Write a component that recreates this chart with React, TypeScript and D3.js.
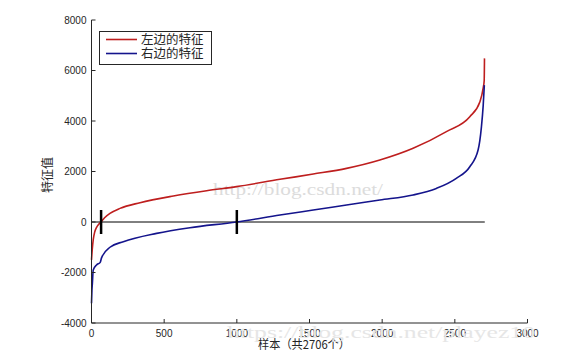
import React from "react";
import * as d3 from "d3";

const xTicks = [0, 500, 1000, 1500, 2000, 2500, 3000];
const yTicks = [-4000, -2000, 0, 2000, 4000, 6000, 8000];

const leftSamples = [0, 5, 12, 22, 35, 50, 65, 90, 127, 196, 334, 563, 792, 998, 1297, 1526, 1755, 1984, 2213, 2442, 2603, 2672, 2695, 2702, 2704];
const leftValues = [-1500, -1100, -700, -400, -210, -90, 0, 170, 340, 540, 765, 1030, 1240, 1400, 1690, 1900, 2125, 2455, 2920, 3580, 4170, 4750, 5300, 5600, 6480];

const rightSamples = [0, 3, 6, 12, 35, 60, 69, 127, 219, 448, 677, 998, 1297, 1526, 1755, 1984, 2213, 2373, 2510, 2603, 2660, 2683, 2695, 2703];
const rightValues = [-3220, -2700, -2430, -1900, -1700, -1600, -1420, -1000, -780, -450, -225, 0, 277, 475, 673, 870, 1070, 1330, 1730, 2190, 2850, 3770, 4600, 5420];

const markerSamples = [66, 1000];
const totalSamples = 2706;

const seriesNames = ["左边的特征", "右边的特征"];
const seriesColors = ["#be1e1e", "#14148c"];

export default function App() {
  const W = 574, H = 361;
  const x = d3.scaleLinear().domain([0, 3000]).range([91.5, 527.5]);
  const y = d3.scaleLinear().domain([-4000, 8000]).range([323, 20]);

  const line = d3
    .line<[number, number]>()
    .x((d) => x(d[0]))
    .y((d) => y(d[1]))
    .curve(d3.curveMonotoneX);

  const leftData: [number, number][] = leftSamples.map((s, i) => [s, leftValues[i]]);
  const rightData: [number, number][] = rightSamples.map((s, i) => [s, rightValues[i]]);

  const axisColor = "#262626";
  const tickFont = "'Liberation Sans', Arial, sans-serif";
  const cjkFont = "'Noto Sans CJK SC', sans-serif";

  return (
    <svg
      width={W}
      height={H}
      style={{ position: "absolute", left: 0, top: 0, background: "#fff" }}
    >
      <rect x={0} y={0} width={W} height={H} fill="#fff" />

      {/* watermark */}
      <text x={213} y={195} fontFamily="'Liberation Serif', serif" fontSize={16} fill="#dcdcdc" textLength={170} lengthAdjust="spacingAndGlyphs">
        http://blog.csdn.net/
      </text>

      {/* zero line */}
      <line x1={x(0)} x2={x(totalSamples)} y1={y(0)} y2={y(0)} stroke="#000" strokeWidth={1} />

      {/* series */}
      <path d={line(leftData) || ""} fill="none" stroke={seriesColors[0]} strokeWidth={1.6} />
      <path d={line(rightData) || ""} fill="none" stroke={seriesColors[1]} strokeWidth={1.6} />

      {/* markers */}
      {markerSamples.map((s, i) => (
        <line
          key={i}
          x1={x(s)}
          x2={x(s)}
          y1={y(0) - 12}
          y2={y(0) + 12}
          stroke="#000"
          strokeWidth={2.5}
        />
      ))}

      {/* axes */}
      <line x1={x(0)} x2={x(0)} y1={y(8000)} y2={y(-4000)} stroke={axisColor} strokeWidth={1} />
      <line x1={x(0)} x2={x(3000)} y1={y(-4000)} y2={y(-4000)} stroke={axisColor} strokeWidth={1} />

      {yTicks.map((t) => (
        <g key={"y" + t}>
          <line x1={x(0)} x2={x(0) + 4} y1={y(t)} y2={y(t)} stroke={axisColor} />
          <text x={x(0) - 5} y={y(t)} dy="0.35em" textAnchor="end" fontFamily={tickFont} fontSize={10} fill={axisColor}>
            {t}
          </text>
        </g>
      ))}
      {xTicks.map((t) => (
        <g key={"x" + t}>
          <line x1={x(t)} x2={x(t)} y1={y(-4000)} y2={y(-4000) - 4} stroke={axisColor} />
          <text x={x(t)} y={y(-4000) + 14} textAnchor="middle" fontFamily={tickFont} fontSize={10} fill={axisColor}>
            {t}
          </text>
        </g>
      ))}

      {/* axis labels */}
      <text x={258} y={349} fontFamily={cjkFont} fontSize={12} fill={axisColor} textLength={92} lengthAdjust="spacingAndGlyphs">
        样本（共2706个）
      </text>
      <text
        transform={`translate(52,175) rotate(-90)`}
        textAnchor="middle"
        fontFamily={cjkFont}
        fontSize={12}
        fill={axisColor}
      >
        特征值
      </text>

      {/* legend */}
      <rect x={99.5} y={31.5} width={112} height={33} fill="#fff" stroke={axisColor} strokeWidth={1} />
      {seriesNames.map((n, i) => (
        <g key={n}>
          <line x1={106} x2={137} y1={39.5 + i * 14} y2={39.5 + i * 14} stroke={seriesColors[i]} strokeWidth={1.6} />
          <text x={141} y={39.5 + i * 14} dy="0.38em" fontFamily={cjkFont} fontSize={12.5} fill={axisColor}>
            {n}
          </text>
        </g>
      ))}

      <text x={227} y={338} fontFamily="'Liberation Serif', serif" fontSize={17} fill="#e6e6e6" textLength={308} lengthAdjust="spacingAndGlyphs">
        https://blog.csdn.net/playez10
      </text>
    </svg>
  );
}
